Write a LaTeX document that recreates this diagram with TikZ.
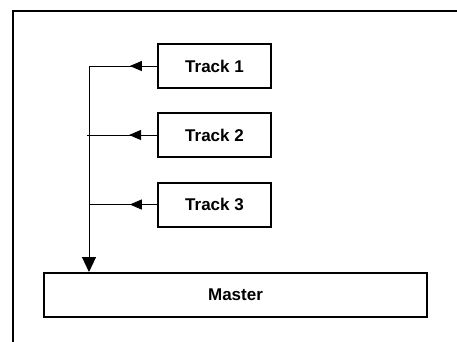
\documentclass[tikz,border=0pt]{standalone}
\usepackage{fontspec}
\setmainfont{Liberation Sans}
\usetikzlibrary{arrows.meta,decorations.markings}

\begin{document}
\begin{tikzpicture}[x=1pt,y=-1pt,>={Triangle[length=15pt,width=14pt]},
  track/.style={draw,line width=2pt,minimum width=113pt,minimum height=44pt,inner sep=0pt,font=\fontsize{17}{20}\selectfont\bfseries},
  midarrow/.style={line width=1pt,postaction={decorate},decoration={markings,mark=at position 0.4 with {\arrow{Triangle[length=12pt,width=10pt]}}}}]
  \clip (0,0) rectangle (457,341);
  % outer frame
  \draw[line width=2pt] (13,11) rectangle (480,360);
  \node[track] (t1) at (214.5,66) {Track 1};
  \node[track] (t2) at (214.5,135) {Track 2};
  \node[track] (t3) at (214.5,204.5) {Track 3};
  \node[track,minimum width=383pt] (master) at (235.5,295) {Master};
  \coordinate (top) at (89,66);
  \coordinate (j2) at (87,135);
  \coordinate (j3) at (89,204.5);
  \draw[midarrow] (t1.west) -- (top);
  \draw[midarrow] (t2.west) -- (j2);
  \draw[midarrow] (t3.west) -- (j3);
  \draw[->,line width=1pt] (top) -- (top |- master.north);
\end{tikzpicture}
\end{document}
